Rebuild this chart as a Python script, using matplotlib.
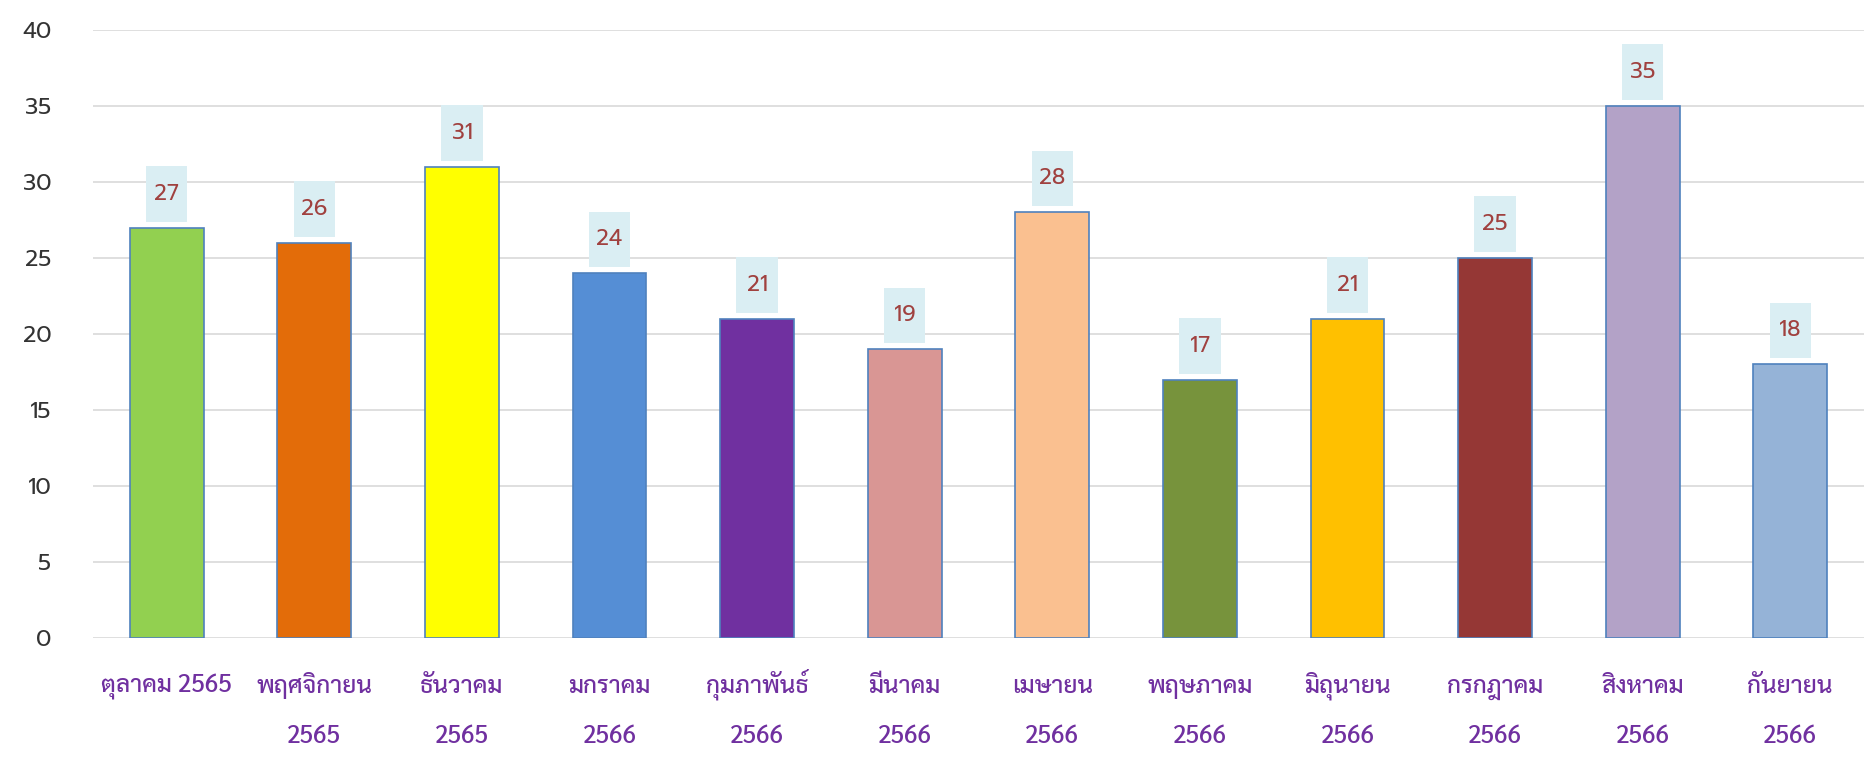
import matplotlib
matplotlib.use("Agg")
import matplotlib.pyplot as plt
from matplotlib.patches import Rectangle

months = ["ตุลาคม 2565", "พฤศจิกายน", "ธันวาคม", "มกราคม", "กุมภาพันธ์", "มีนาคม",
          "เมษายน", "พฤษภาคม", "มิถุนายน", "กรกฎาคม", "สิงหาคม", "กันยายน"]
years = ["", "2565", "2565", "2566", "2566", "2566", "2566", "2566", "2566", "2566", "2566", "2566"]
values = [27, 26, 31, 24, 21, 19, 28, 17, 21, 25, 35, 18]
colors = ["#92D050", "#E36C09", "#FFFF00", "#558ED5", "#7030A0", "#D99694",
          "#FAC090", "#77933C", "#FFC000", "#953735", "#B3A2C7", "#95B3D7"]
yticks = [0, 5, 10, 15, 20, 25, 30, 35, 40]

thai = ["Sarabun", "Noto Sans Thai Looped", "DejaVu Sans"]
nums = ["Prompt", "DejaVu Sans"]
plt.rcParams['font.family'] = thai

fig = plt.figure(figsize=(18.76, 7.71), dpi=100)
ax = fig.add_axes([93/1876, 1-638/771, (1864-93)/1876, (638-30)/771])
x = list(range(len(values)))
ax.bar(x, values, width=0.5, color=colors, edgecolor="#4F81BD", linewidth=1.2, zorder=3)
for xi, v in zip(x, values):
    ax.add_patch(Rectangle((xi-0.14, v+0.4), 0.28, 3.65, facecolor="#DAEEF3",
                           edgecolor="none", zorder=4))
    ax.text(xi, v+0.4+1.8, str(v), ha="center", va="center", fontsize=16,
            color="#A0413F", zorder=5, family=nums)
ax.set_xlim(-0.5, 11.5)
ax.set_ylim(0, 40)
ax.set_yticks(yticks)
ax.set_yticklabels([str(t) for t in yticks], family=nums)
ax.set_xticks(x)
ax.set_xticklabels([])
for xi, m, yr in zip(x, months, years):
    ax.annotate(m, xy=(xi, 0), xycoords=("data", "axes fraction"),
                xytext=(0, -55*0.72), textcoords="offset points",
                ha="center", va="baseline", fontsize=17.5, color="#7030A0",
                fontweight="medium")
    if yr:
        ax.annotate(yr, xy=(xi, 0), xycoords=("data", "axes fraction"),
                    xytext=(0, -105*0.72), textcoords="offset points",
                    ha="center", va="baseline", fontsize=17.5, color="#7030A0",
                    fontweight="medium")
ax.tick_params(axis="x", length=0)
ax.tick_params(axis="y", length=0, pad=30, labelsize=16.5, labelcolor="#333333")
for s in ax.spines.values():
    s.set_visible(False)
ax.grid(axis="y", color="#D9D9D9", linewidth=1.2, zorder=0)
ax.set_axisbelow(True)
fig.savefig("out.png", dpi=100)
